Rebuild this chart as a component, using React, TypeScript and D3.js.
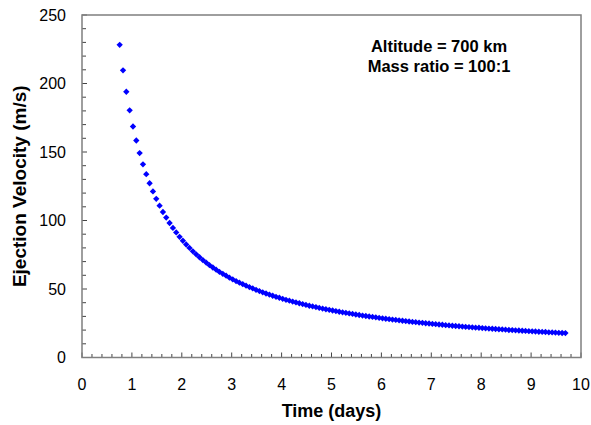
import React from 'react';
import * as d3 from 'd3';

// time in days (one point every ~1.6 h)
const timeDays = [
  0.755, 0.822, 0.888, 0.955, 1.022, 1.088, 1.155, 1.222, 1.288, 1.355, 1.422, 1.488, 1.555, 1.622, 1.688,
  1.755, 1.822, 1.888, 1.955, 2.022, 2.088, 2.155, 2.222, 2.288, 2.355, 2.422, 2.488, 2.555, 2.622, 2.688,
  2.755, 2.822, 2.888, 2.955, 3.022, 3.088, 3.155, 3.222, 3.288, 3.355, 3.422, 3.488, 3.555, 3.622, 3.688,
  3.755, 3.822, 3.888, 3.955, 4.022, 4.088, 4.155, 4.222, 4.288, 4.355, 4.422, 4.488, 4.555, 4.622, 4.688,
  4.755, 4.822, 4.888, 4.955, 5.022, 5.088, 5.155, 5.222, 5.288, 5.355, 5.422, 5.488, 5.555, 5.622, 5.688,
  5.755, 5.822, 5.888, 5.955, 6.022, 6.088, 6.155, 6.222, 6.288, 6.355, 6.422, 6.488, 6.555, 6.622, 6.688,
  6.755, 6.822, 6.888, 6.955, 7.022, 7.088, 7.155, 7.222, 7.288, 7.355, 7.422, 7.488, 7.555, 7.622, 7.688,
  7.755, 7.822, 7.888, 7.955, 8.022, 8.088, 8.155, 8.222, 8.288, 8.355, 8.422, 8.488, 8.555, 8.622, 8.688,
  8.755, 8.822, 8.888, 8.955, 9.022, 9.088, 9.155, 9.222, 9.288, 9.355, 9.422, 9.488, 9.555, 9.622, 9.688,
];

// ejection velocity in m/s
const velocity = [
  228.2, 209.6, 194.0, 180.4, 168.6, 158.4, 149.2, 141.0, 133.8, 127.2, 121.2, 115.8, 110.8, 106.2, 102.1,
  98.2, 94.6, 91.3, 88.1, 85.2, 82.5, 80.0, 77.5, 75.3, 73.2, 71.1, 69.3, 67.4, 65.7, 64.1,
  62.5, 61.1, 59.7, 58.3, 57.0, 55.8, 54.6, 53.5, 52.4, 51.4, 50.4, 49.4, 48.5, 47.6, 46.7,
  45.9, 45.1, 44.3, 43.6, 42.8, 42.1, 41.5, 40.8, 40.2, 39.6, 39.0, 38.4, 37.8, 37.3, 36.8,
  36.2, 35.7, 35.2, 34.8, 34.3, 33.9, 33.4, 33.0, 32.6, 32.2, 31.8, 31.4, 31.0, 30.6, 30.3,
  29.9, 29.6, 29.3, 28.9, 28.6, 28.3, 28.0, 27.7, 27.4, 27.1, 26.8, 26.6, 26.3, 26.0, 25.8,
  25.5, 25.3, 25.0, 24.8, 24.5, 24.3, 24.1, 23.9, 23.6, 23.4, 23.2, 23.0, 22.8, 22.6, 22.4,
  22.2, 22.0, 21.8, 21.7, 21.5, 21.3, 21.1, 21.0, 20.8, 20.6, 20.5, 20.3, 20.1, 20.0, 19.8,
  19.7, 19.5, 19.4, 19.2, 19.1, 19.0, 18.8, 18.7, 18.6, 18.4, 18.3, 18.2, 18.0, 17.9, 17.8,
];

const xTicks = [0, 1, 2, 3, 4, 5, 6, 7, 8, 9, 10];
const yTicks = [0, 50, 100, 150, 200, 250];
const notes = ['Altitude = 700 km', 'Mass ratio = 100:1'];

const W = 591;
const H = 425;
const font = '"Liberation Sans", Arial, sans-serif';

export default function App() {
  const margin = { left: 82, right: 10, top: 15, bottom: 67.5 };
  const x = d3.scaleLinear().domain([0, 10]).range([margin.left, W - margin.right]);
  const y = d3.scaleLinear().domain([0, 250]).range([H - margin.bottom, margin.top]);

  const xMinor = d3.range(0, 10.001, 0.2);
  const yMinor = d3.range(0, 250.001, 10);
  const diamond = d3.symbol().type(d3.symbolSquare).size(20)();

  const points = timeDays.map((t, i) => ({ t, v: velocity[i] }));
  const axisColor = '#7f7f7f';

  return (
    <svg width={W} height={H} style={{ position: 'absolute', left: 0, top: 0, background: '#fff' }}>
      {/* minor/major ticks, drawn inside the frame */}
      {xMinor.map((d, i) => {
        const major = Math.abs(d - Math.round(d)) < 1e-6;
        return (
          <line key={'xt' + i} x1={x(d)} x2={x(d)} y1={y(0)} y2={y(0) - (major ? 5 : 3.5)}
            stroke="#444" strokeWidth={1} />
        );
      })}
      {yMinor.map((d, i) => (
        <line key={'yt' + i} x1={x(0)} x2={x(0) + (d % 50 === 0 ? 5 : 4)} y1={y(d)} y2={y(d)}
          stroke="#444" strokeWidth={1} />
      ))}

      {/* plot frame */}
      <rect x={x(0)} y={y(250)} width={x(10) - x(0)} height={y(0) - y(250)}
        fill="none" stroke={axisColor} strokeWidth={1.5} />

      {/* tick labels */}
      {xTicks.map(d => (
        <text key={'xl' + d} x={x(d)} y={390} textAnchor="middle" fontSize={16} fontFamily={font}>{d}</text>
      ))}
      {yTicks.map(d => (
        <text key={'yl' + d} x={66} y={y(d)} dy="0.35em" textAnchor="end" fontSize={16} fontFamily={font}>{d}</text>
      ))}

      {/* axis titles */}
      <text x={x(5)} y={417} textAnchor="middle" fontSize={18} fontWeight="bold" fontFamily={font}>Time (days)</text>
      <text transform={`translate(26, ${(y(0) + y(250)) / 2}) rotate(-90)`} textAnchor="middle"
        fontSize={19} fontWeight="bold" fontFamily={font}>Ejection Velocity (m/s)</text>

      {/* annotation */}
      {notes.map((s, i) => (
        <text key={s} x={439} y={52 + i * 20} textAnchor="middle" fontSize={16.5} fontWeight="bold"
          fontFamily={font}>{s}</text>
      ))}

      {/* data */}
      {points.map((p, i) => (
        <path key={'p' + i} d={diamond} transform={`translate(${x(p.t)}, ${y(p.v)}) rotate(45)`} fill="#0000ff" />
      ))}
    </svg>
  );
}
